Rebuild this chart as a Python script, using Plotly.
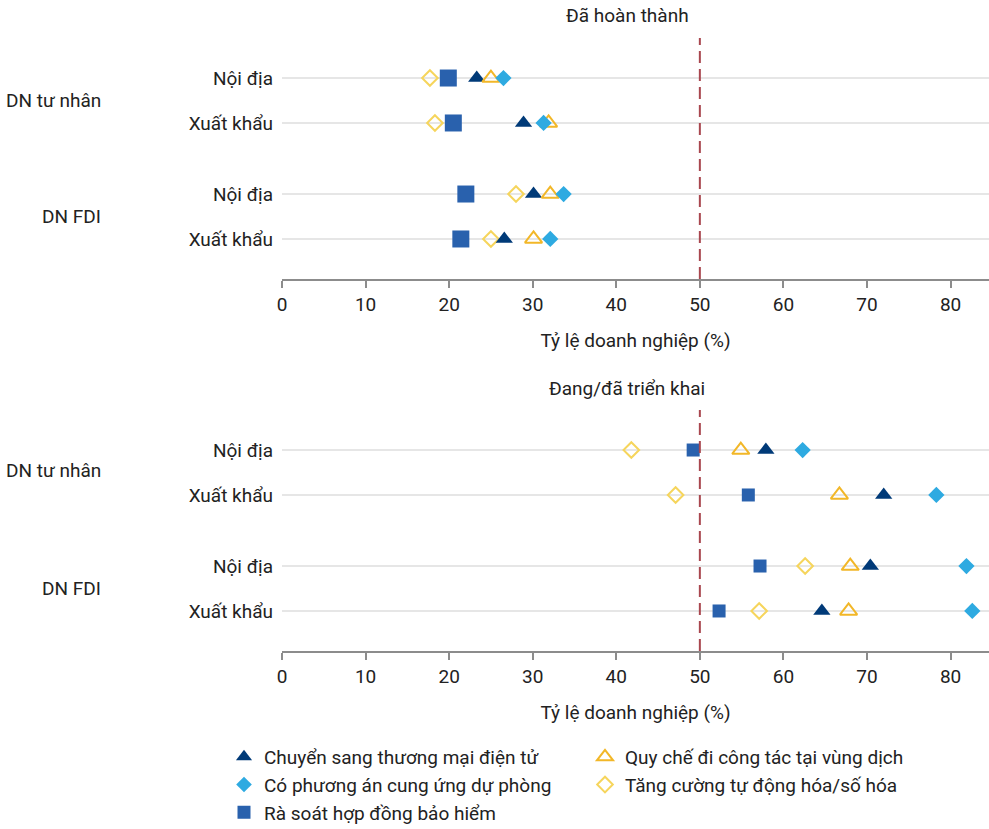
import plotly.graph_objects as go

# ---- data ----
row_labels = ["Nội địa", "Xuất khẩu", "Nội địa", "Xuất khẩu"]
group_labels = ["DN tư nhân", "DN FDI"]
row_pos = [0, 1, 2.58, 3.58]

series_names = [
    "Chuyển sang thương mại điện tử",
    "Quy chế đi công tác tại vùng dịch",
    "Có phương án cung ứng dự phòng",
    "Tăng cường tự động hóa/số hóa",
    "Rà soát hợp đồng bảo hiểm",
]

# Panel 1: "Đã hoàn thành"
done_ecommerce = [23.3, 28.9, 30.1, 26.6]
done_travel = [25.0, 31.9, 32.1, 30.1]
done_supply = [26.5, 31.3, 33.7, 32.1]
done_automation = [17.7, 18.3, 28.0, 25.0]
done_insurance = [19.9, 20.5, 22.0, 21.4]

# Panel 2: "Đang/đã triển khai"
prog_ecommerce = [57.9, 72.0, 70.4, 64.6]
prog_travel = [54.9, 66.7, 68.0, 67.8]
prog_supply = [62.3, 78.3, 81.9, 82.6]
prog_automation = [41.8, 47.1, 62.6, 57.1]
prog_insurance = [49.2, 55.8, 57.2, 52.3]

x_ticks = [0, 10, 20, 30, 40, 50, 60, 70, 80]
threshold = 50
panel_titles = ["Đã hoàn thành", "Đang/đã triển khai"]
x_title = "Tỷ lệ doanh nghiệp (%)"

FONT = "Roboto, sans-serif"
FS = 19
W, H = 989, 829

styles = {
    series_names[0]: dict(symbol="triangle-up", color="#003a78", size=15, line=dict(width=0)),
    series_names[1]: dict(symbol="triangle-up-open", color="#f2b728", size=15, line=dict(width=2, color="#f2b728")),
    series_names[2]: dict(symbol="diamond", color="#2eaae1", size=12.5, line=dict(width=0)),
    series_names[3]: dict(symbol="diamond-open", color="#f6d55c", size=12, line=dict(width=2, color="#f6d55c")),
    series_names[4]: dict(symbol="square", color="#2961ad", size=17, line=dict(width=0)),
}
square_size_panel2 = 13

panel1 = dict(zip(series_names, [done_ecommerce, done_travel, done_supply, done_automation, done_insurance]))
panel2 = dict(zip(series_names, [prog_ecommerce, prog_travel, prog_supply, prog_automation, prog_insurance]))

fig = go.Figure()
draw_order = [series_names[3], series_names[4], series_names[0], series_names[1], series_names[2]]
for name in draw_order:
    st = styles[name]
    for data, xa, ya, panel in [(panel1, "x", "y", 1), (panel2, "x2", "y2", 2)]:
        size = st["size"]
        if name == series_names[4] and panel == 2:
            size = square_size_panel2
        fig.add_trace(go.Scatter(
            x=data[name], y=row_pos, mode="markers", name=name, legendgroup=name,
            showlegend=False, xaxis=xa, yaxis=ya,
            marker=dict(symbol=st["symbol"], color=st["color"], size=size, line=st["line"]),
        ))
# legend entries in the desired order
legend_sizes = {series_names[0]: 14, series_names[1]: 14, series_names[2]: 12,
                series_names[3]: 12, series_names[4]: 13}
for name in series_names:
    st = styles[name]
    fig.add_trace(go.Scatter(
        x=[None], y=[None], mode="markers", name=name, legendgroup=name,
        showlegend=True, xaxis="x2", yaxis="y2",
        marker=dict(symbol=st["symbol"], color=st["color"], size=legend_sizes[name], line=st["line"]),
    ))

L = 282
B = 100
PW = W - L
PH = H - B

def py(px):
    return 1 - px / PH

def pxr(px):
    return (px - L) / PW

yrange = [4.47, -0.89]
common_x = dict(range=[0, 84.6], tickvals=x_ticks, showgrid=False, zeroline=False,
                showline=True, linecolor="#8c8c8c", linewidth=1.5, ticks="outside",
                ticklen=7, tickcolor="#8c8c8c", tickwidth=1.5, automargin=False,
                tickfont=dict(size=FS, color="#222", family=FONT),
                title=dict(text=x_title, font=dict(size=FS, color="#222", family=FONT), standoff=19))
common_y = dict(range=yrange, tickvals=row_pos, ticktext=row_labels, showgrid=True,
                gridcolor="#e6e6e6", gridwidth=2, zeroline=False, showline=False,
                ticks="", ticklabelstandoff=8, automargin=False,
                tickfont=dict(size=FS, color="#222", family=FONT))

fig.update_layout(
    width=W, height=H,
    margin=dict(l=L, r=0, t=0, b=B, autoexpand=False),
    plot_bgcolor="white", paper_bgcolor="white",
    font=dict(family=FONT, color="#222"),
    xaxis=dict(common_x, domain=[0, 1], anchor="y"),
    yaxis=dict(common_y, domain=[py(279), py(38)], anchor="x"),
    xaxis2=dict(common_x, domain=[0, 1], anchor="y2"),
    yaxis2=dict(common_y, domain=[py(651), py(410)], anchor="x2"),
    showlegend=True,
    legend=dict(orientation="h", x=pxr(224), xanchor="left", y=py(738), yanchor="top",
                entrywidth=316, entrywidthmode="pixels", traceorder="normal",
                font=dict(size=FS, family=FONT, color="#222"), itemwidth=30,
                bgcolor="rgba(0,0,0,0)"),
)

shapes = []
for xa, ya in [("x", "y"), ("x2", "y2")]:
    shapes.append(dict(type="line", xref=xa, yref=ya + " domain", x0=threshold, x1=threshold,
                       y0=0, y1=1, line=dict(color="#a9474f", width=2, dash="12px,6px")))
fig.update_layout(shapes=shapes)

ann = []
for t, ypix in zip(panel_titles, [16, 388]):
    ann.append(dict(text=t, xref="paper", yref="paper", x=pxr(627), y=py(ypix), xanchor="center",
                    yanchor="middle", showarrow=False, font=dict(size=FS, family=FONT, color="#222")))
for ya, ypix_list in [("y", [100, 217]), ("y2", [471, 588])]:
    for g, ypix in zip(group_labels, ypix_list):
        ann.append(dict(text=g, xref="paper", yref="paper", x=pxr(103), y=py(ypix),
                        xanchor="right", yanchor="middle", showarrow=False,
                        font=dict(size=FS, family=FONT, color="#222")))
fig.update_layout(annotations=ann)

fig.write_html("out.html", config={"displayModeBar": False},
               post_script="document.body.style.margin='0';")
